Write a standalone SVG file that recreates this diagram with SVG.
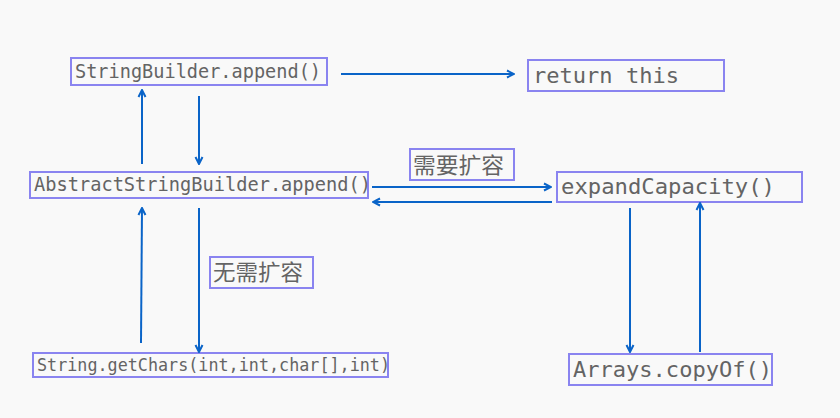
<svg xmlns="http://www.w3.org/2000/svg" width="840" height="418" viewBox="0 0 840 418">
<style>
.box{fill:none;stroke:#8a84f0;stroke-width:2}
.t{font-family:"DejaVu Sans Mono","Liberation Mono",monospace;fill:#646464}
.cn{font-family:"Noto Sans CJK SC",sans-serif;fill:#646464;font-size:22px}
.ln{stroke:#0a64c8;stroke-width:2;fill:none;marker-end:url(#ah)}
</style>
<defs>
<marker id="ah" viewBox="0 0 10 10" refX="9" refY="5" markerWidth="10" markerHeight="10" markerUnits="userSpaceOnUse" orient="auto">
<path d="M2,1.5 L9,5 L2,8.5" fill="none" stroke="#0a64c8" stroke-width="2"/>
</marker>
</defs>
<rect width="840" height="418" fill="#f9f9f9"/>
<g id="sb">
<rect class="box" x="71" y="58" width="256" height="27"/>
<text class="t" x="75" y="78" font-size="18.6" textLength="246" lengthAdjust="spacingAndGlyphs">StringBuilder.append()</text>
</g>
<g id="ret">
<rect class="box" x="528" y="60" width="196" height="31"/>
<text class="t" x="533" y="83" font-size="22" textLength="146" lengthAdjust="spacingAndGlyphs">return this</text>
</g>
<g id="asb">
<rect class="box" x="30" y="172" width="338" height="26"/>
<text class="t" x="34" y="191" font-size="18.6" textLength="337" lengthAdjust="spacingAndGlyphs">AbstractStringBuilder.append()</text>
</g>
<g id="lbl1">
<rect class="box" x="410" y="149" width="104" height="31"/>
<text class="cn" x="413" y="173" textLength="91" lengthAdjust="spacingAndGlyphs">需要扩容</text>
</g>
<g id="exp">
<rect class="box" x="557" y="172" width="245" height="30"/>
<text class="t" x="561" y="194" font-size="22" textLength="214" lengthAdjust="spacingAndGlyphs">expandCapacity()</text>
</g>
<g id="lbl2">
<rect class="box" x="210" y="257" width="103" height="31"/>
<text class="cn" x="213" y="280" textLength="90" lengthAdjust="spacingAndGlyphs">无需扩容</text>
</g>
<g id="gc">
<rect class="box" x="33" y="353" width="355" height="24"/>
<text class="t" x="37" y="371" font-size="16.8" textLength="353" lengthAdjust="spacingAndGlyphs">String.getChars(int,int,char[],int)</text>
</g>
<g id="copy">
<rect class="box" x="569" y="354" width="203" height="31"/>
<text class="t" x="573" y="377" font-size="22" textLength="199" lengthAdjust="spacingAndGlyphs">Arrays.copyOf()</text>
</g>
<g id="connectors">
<line class="ln" x1="341" y1="74" x2="514" y2="74"/>
<line class="ln" x1="142" y1="164" x2="142" y2="90"/>
<line class="ln" x1="199" y1="96" x2="199" y2="164"/>
<line class="ln" x1="372" y1="187" x2="551" y2="187"/>
<line class="ln" x1="552" y1="202" x2="373" y2="202"/>
<line class="ln" x1="141" y1="343" x2="142" y2="208"/>
<line class="ln" x1="199" y1="208" x2="199" y2="352"/>
<line class="ln" x1="630" y1="208" x2="630" y2="352"/>
<line class="ln" x1="700" y1="352" x2="700" y2="203"/>
</g>
</svg>
